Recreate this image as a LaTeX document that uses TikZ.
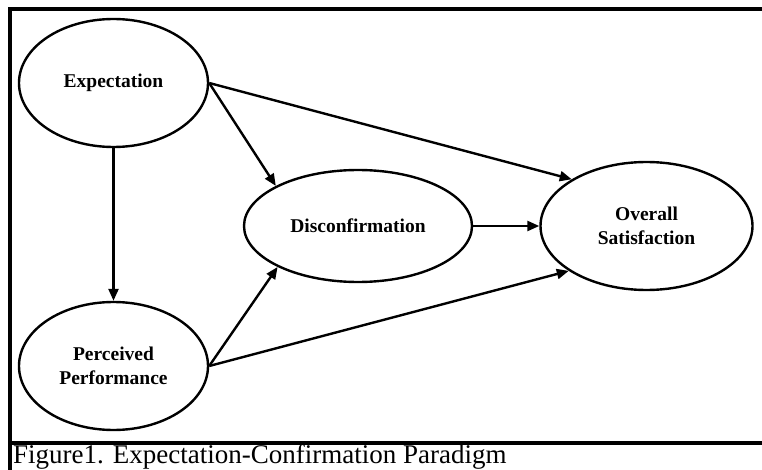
\documentclass[tikz,border=0pt]{standalone}
\usepackage{fontspec}
\setmainfont{Liberation Serif}
\usetikzlibrary{shapes.geometric,arrows.meta}
\begin{document}
\begin{tikzpicture}[x=1pt,y=-1pt,
  ell/.style={ellipse,draw,line width=2.4pt,inner sep=0pt,align=center,
    font=\fontsize{19.5}{24}\selectfont\bfseries},
  arr/.style={line width=2.4pt,-{Triangle[length=12pt,width=10pt]}},
  frame/.style={line width=3.4pt}]
\useasboundingbox (0,0) rectangle (762,470);
\fill[white] (0,0) rectangle (762,470);
\coordinate (tl) at (10,9);
\coordinate (tr) at (762,9);
\coordinate (bl) at (10,470);
\coordinate (ml) at (10,443);
\coordinate (mr) at (762,443);
\draw[frame] (bl) -- (tl) -- (tr);
\draw[frame] (ml) -- (mr);
\node[ell,minimum width=189pt,minimum height=128pt] (e) at (113.5,83) {Expectation};
\node[ell,minimum width=189pt,minimum height=128pt] (p) at (113.5,366) {Perceived\\Performance};
\node[ell,minimum width=228pt,minimum height=112pt] (d) at (358,226) {Disconfirmation};
\node[ell,minimum width=212pt,minimum height=128pt] (o) at (646.5,226) {Overall\\Satisfaction};
\draw[arr] (e.south) -- (p.north);
\draw[arr] (e.east) -- (d.154);
\draw[arr] (e.east) -- (o.148);
\draw[arr] (p.east) -- (d.207);
\draw[arr] (p.east) -- (o.210);
\draw[arr] (d.east) -- (o.west);
\node[anchor=base west,inner sep=0pt,font=\fontsize{27}{30}\selectfont] (cap) at (13,463) {Figure1. Expectation-Confirmation Paradigm};
\end{tikzpicture}
\end{document}
